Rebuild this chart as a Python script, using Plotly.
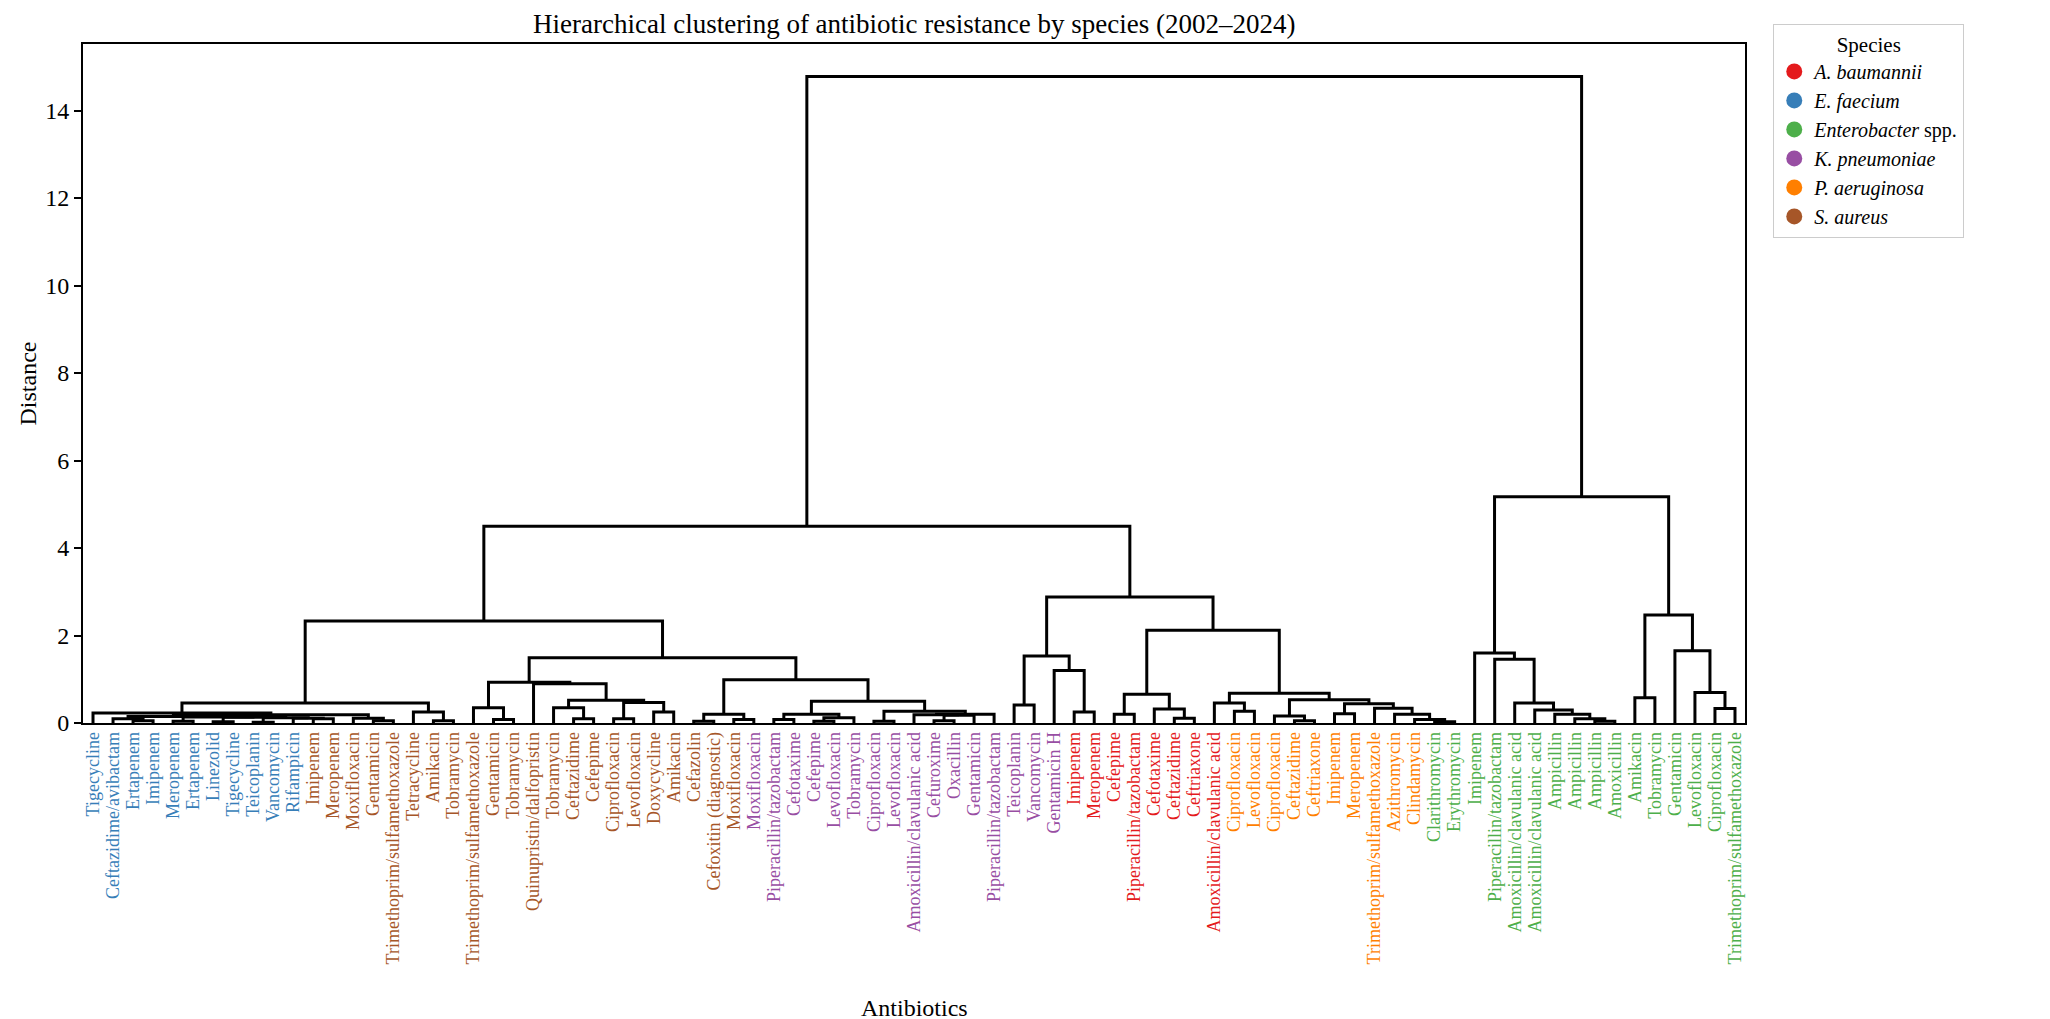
import plotly.graph_objects as go

# ---------------- data ----------------
leaf_labels = [
    "Tigecycline", "Ceftazidime/avibactam", "Ertapenem", "Imipenem", "Meropenem", "Ertapenem",
    "Linezolid", "Tigecycline", "Teicoplanin", "Vancomycin", "Rifampicin",
    "Imipenem", "Meropenem", "Moxifloxacin", "Gentamicin", "Trimethoprim/sulfamethoxazole",
    "Tetracycline", "Amikacin", "Tobramycin", "Trimethoprim/sulfamethoxazole", "Gentamicin",
    "Tobramycin", "Quinupristin/dalfopristin", "Tobramycin", "Ceftazidime", "Cefepime",
    "Ciprofloxacin", "Levofloxacin", "Doxycycline", "Amikacin", "Cefazolin",
    "Cefoxitin (diagnostic)", "Moxifloxacin",
    "Moxifloxacin", "Piperacillin/tazobactam", "Cefotaxime", "Cefepime", "Levofloxacin",
    "Tobramycin", "Ciprofloxacin", "Levofloxacin", "Amoxicillin/clavulanic acid", "Cefuroxime",
    "Oxacillin", "Gentamicin", "Piperacillin/tazobactam", "Teicoplanin", "Vancomycin",
    "Gentamicin H",
    "Imipenem", "Meropenem", "Cefepime", "Piperacillin/tazobactam", "Cefotaxime",
    "Ceftazidime", "Ceftriaxone", "Amoxicillin/clavulanic acid",
    "Ciprofloxacin", "Levofloxacin", "Ciprofloxacin", "Ceftazidime", "Ceftriaxone",
    "Imipenem", "Meropenem", "Trimethoprim/sulfamethoxazole", "Azithromycin", "Clindamycin",
    "Clarithromycin", "Erythromycin", "Imipenem", "Piperacillin/tazobactam",
    "Amoxicillin/clavulanic acid", "Amoxicillin/clavulanic acid", "Ampicillin", "Ampicillin",
    "Ampicillin", "Amoxicillin", "Amikacin", "Tobramycin", "Gentamicin", "Levofloxacin",
    "Ciprofloxacin", "Trimethoprim/sulfamethoxazole",
]

leaf_species = [
    "EF", "EF", "EF", "EF", "EF", "EF", "EF", "EF", "EF", "EF", "EF",
    "SA", "SA", "SA", "SA", "SA", "SA", "SA", "SA", "SA", "SA", "SA",
    "SA", "SA", "SA", "SA", "SA", "SA", "SA", "SA", "SA", "SA", "SA",
    "KP", "KP", "KP", "KP", "KP", "KP", "KP", "KP", "KP", "KP", "KP",
    "KP", "KP", "KP", "KP", "KP",
    "AB", "AB", "AB", "AB", "AB", "AB", "AB", "AB",
    "PA", "PA", "PA", "PA", "PA", "PA", "PA", "PA", "PA", "PA",
    "EN", "EN", "EN", "EN", "EN", "EN", "EN", "EN", "EN", "EN",
    "EN", "EN", "EN", "EN", "EN", "EN",
]

species_codes = ["AB", "EF", "EN", "KP", "PA", "SA"]
species_names = ["<i>A. baumannii</i>", "<i>E. faecium</i>", "<i>Enterobacter</i> spp.",
                 "<i>K. pneumoniae</i>", "<i>P. aeruginosa</i>", "<i>S. aureus</i>"]
species_colors = ["#e41a1c", "#377eb8", "#4daf4a", "#984ea3", "#ff7f00", "#a65628"]

# merges: children are leaf indices (int) or names of other merges
node_name = [
    "G", "F", "E", "D", "C", "B", "A",
    "I", "L", "K", "J", "H", "RC",
    "M5a0", "M5a", "M5b0", "M5c0", "M5d0", "M5f", "M5e", "M5d", "M5c", "M5b", "M5",
    "M6a", "M6", "M4", "M3", "M2a", "M2", "M1",
    "N1a0", "N1a", "N1c0", "N1c", "N1d1", "N1d2", "N1d", "N1b", "N1bq", "N1",
    "EE", "FF", "DD", "H1", "H2a", "H2", "HH", "IA", "J3a", "J3", "J2", "JJ", "II",
    "GG", "CC", "BB", "LL1",
    "P", "R", "Q", "O", "U", "W", "V", "T",
    "Y2", "Y", "Z1a", "Z1", "Z2a", "Z6", "Z5", "Z4", "Z3", "Z2", "Z", "X",
    "S", "N", "BIG", "ROOT",
]
node_left = [
    75, 74, 73, 72, 71, 70, 69,
    77, 81, 80, 79, "I", "A",
    2, 1, 4, 6, 8, 11, 10, "M5d0", "M5c0", "M5b0", "M5a",
    14, 13, "M5", 0, 17, 16, "M3",
    20, 19, 24, 23, 26, 28, "N1d1", "N1c", 22, "N1a",
    30, 32, "EE", 34, 36, "H2a", "H1", 39, 42, "J3a", 41, "J2", "IA",
    "HH", "DD", "N1", "M1",
    46, 49, 48, "P", 51, 54, 53, "U",
    57, 56, 60, 59, 62, 67, 66, 65, 64, "Z2a", "Z1", "Y",
    "T", "O", "LL1", "BIG",
]
node_right = [
    76, "G", "F", "E", "D", "C", "B",
    78, 82, "L", "K", "J", "H",
    3, "M5a0", 5, 7, 9, 12, "M5f", "M5e", "M5d", "M5c", "M5b",
    15, "M6a", "M6", "M4", 18, "M2a", "M2",
    21, "N1a0", 25, "N1c0", 27, 29, "N1d2", "N1d", "N1b", "N1bq",
    31, 33, "FF", 35, 37, 38, "H2", 40, 43, 44, "J3", 45, "JJ",
    "II", "GG", "CC", "BB",
    47, 50, "R", "Q", 52, 55, "W", "V",
    58, "Y2", 61, "Z1a", 63, 68, "Z6", "Z5", "Z4", "Z3", "Z2", "Z",
    "X", "S", "N", "RC",
]
node_height = [
    0.04, 0.10, 0.20, 0.30, 0.46, 1.46, 1.60,
    0.58, 0.33, 0.70, 1.65, 2.47, 5.17,
    0.05, 0.10, 0.04, 0.03, 0.02, 0.10, 0.11, 0.12, 0.13, 0.14, 0.15,
    0.05, 0.11, 0.19, 0.23, 0.05, 0.25, 0.46,
    0.08, 0.35, 0.10, 0.35, 0.10, 0.25, 0.47, 0.52, 0.90, 0.93,
    0.04, 0.08, 0.20, 0.08, 0.04, 0.12, 0.20, 0.04, 0.05, 0.18, 0.19, 0.20, 0.27,
    0.50, 0.99, 1.49, 2.33,
    0.41, 0.25, 1.20, 1.53, 0.20, 0.11, 0.32, 0.66,
    0.27, 0.46, 0.05, 0.16, 0.21, 0.03, 0.08, 0.20, 0.34, 0.44, 0.53, 0.68,
    2.12, 2.88, 4.50, 14.78,
]

y_ticks = [0, 2, 4, 6, 8, 10, 12, 14]

# ---------------- build dendrogram ----------------
FONT = "Liberation Serif"
nodes = {n: (l, r, h) for n, l, r, h in zip(node_name, node_left, node_right, node_height)}
n_leaves = len(leaf_labels)
leaf_x = [5 + 10 * i for i in range(n_leaves)]
cache = {}


def pos(c):
    if isinstance(c, int):
        return leaf_x[c], 0.0
    if c in cache:
        return cache[c]
    l, r, h = nodes[c]
    xl, _ = pos(l)
    xr, _ = pos(r)
    cache[c] = ((xl + xr) / 2.0, h)
    return cache[c]


xs, ys = [], []
for n in node_name:
    l, r, h = nodes[n]
    xl, hl = pos(l)
    xr, hr = pos(r)
    xs += [xl, xl, xr, xr, None]
    ys += [hl, h, h, hr, None]

color_of = dict(zip(species_codes, species_colors))
tick_text = [f'<span style="color:{color_of[s]}">{t}</span>' for t, s in zip(leaf_labels, leaf_species)]

fig = go.Figure()
fig.add_trace(go.Scatter(x=xs, y=ys, mode="lines", line=dict(color="black", width=3),
                         hoverinfo="skip", showlegend=False))
for name, col in zip(species_names, species_colors):
    fig.add_trace(go.Scatter(x=[None], y=[None], mode="markers", name=name,
                             marker=dict(color=col, size=17)))

fig.update_layout(
    width=2050, height=1019,
    margin=dict(l=75, r=313, t=36, b=304),
    plot_bgcolor="white", paper_bgcolor="white",
    font=dict(family=FONT, size=18, color="black"),
    legend=dict(x=1.017, y=1.03, xanchor="left", yanchor="top",
                bordercolor="#cccccc", borderwidth=1, bgcolor="white",
                font=dict(family=FONT, size=20), tracegroupgap=0,
                title=dict(text="Species", side="top center", font=dict(family=FONT, size=21))),
    annotations=[
        dict(text="Hierarchical clustering of antibiotic resistance by species (2002–2024)",
             x=0.5, y=1, xref="paper", yref="paper", yshift=20, showarrow=False,
             xanchor="center", yanchor="middle", font=dict(family=FONT, size=27)),
        dict(text="Antibiotics", x=0.5, y=0, xref="paper", yref="paper", yshift=-285,
             showarrow=False, xanchor="center", yanchor="middle", font=dict(family=FONT, size=24)),
        dict(text="Distance", x=0, y=0.5, xref="paper", yref="paper", xshift=-56,
             showarrow=False, textangle=-90, xanchor="center", yanchor="middle",
             font=dict(family=FONT, size=24)),
    ],
)
fig.update_xaxes(range=[0, 10 * n_leaves], tickmode="array", tickvals=leaf_x, ticktext=tick_text,
                 tickangle=-90, tickfont=dict(family=FONT, size=18), ticks="",
                 showline=True, mirror=True, linecolor="black", linewidth=1.8,
                 showgrid=False, zeroline=False)
fig.update_yaxes(range=[0, 15.52], tickmode="array", tickvals=y_ticks,
                 tickfont=dict(family=FONT, size=24), ticks="outside", ticklen=7, tickwidth=1.6,
                 tickcolor="black", showline=True, mirror=True, linecolor="black", linewidth=1.8,
                 showgrid=False, zeroline=False)

fig.write_html("out.html")
